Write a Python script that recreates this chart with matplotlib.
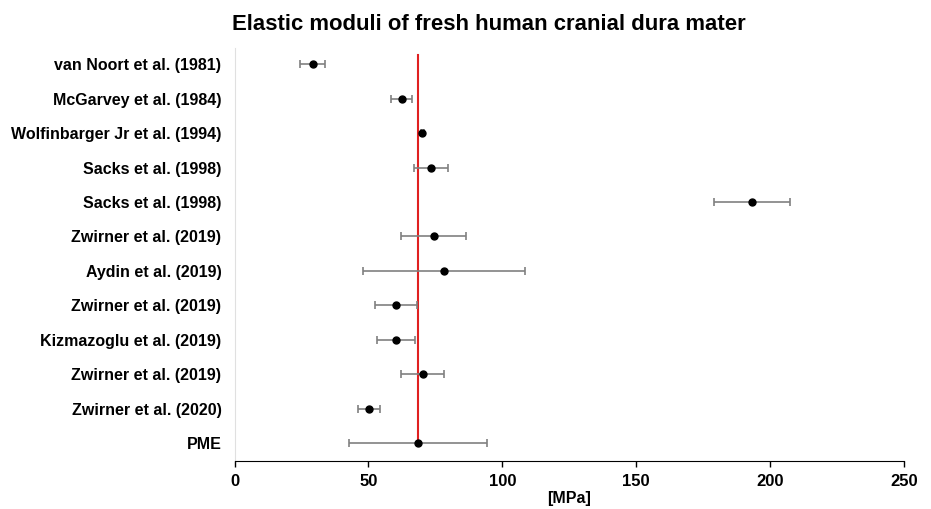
import matplotlib.pyplot as plt

plt.rcParams['font.family'] = ['Liberation Sans', 'DejaVu Sans']

studies = ["van Noort et al. (1981)", "McGarvey et al. (1984)", "Wolfinbarger Jr et al. (1994)",
           "Sacks et al. (1998)", "Sacks et al. (1998)", "Zwirner et al. (2019)",
           "Aydin et al. (2019)", "Zwirner et al. (2019)", "Kizmazoglu et al. (2019)",
           "Zwirner et al. (2019)", "Zwirner et al. (2020)", "PME"]
means = [29.2, 62.4, 70.1, 73.3, 193.2, 74.3, 78.3, 60.3, 60.2, 70.3, 50.2, 68.5]
errs = [4.6, 4.0, 0.5, 6.4, 14.1, 12.0, 30.3, 8.0, 7.0, 8.0, 4.0, 25.9]
pme_mean = 68.5

fig, ax = plt.subplots(figsize=(9.31, 5.09), dpi=100)
fig.subplots_adjust(left=0.252, right=0.971, top=0.905, bottom=0.094)

pos = list(range(len(studies)))
ax.errorbar(means, pos, xerr=errs, fmt='o', color='black', ms=5,
            ecolor='#808080', elinewidth=1.2, capsize=3, capthick=1.2, zorder=3)
ax.axvline(pme_mean, ymin=0.039, ymax=0.983, color='#e02020', lw=1.5, zorder=2)

ax.set_xlim(0, 250)
ax.set_ylim(len(studies) - 0.48, -0.46)
ax.set_yticks(pos)
ax.set_yticklabels(studies, fontsize=11.5, fontweight='bold')
ax.tick_params(axis='y', length=0, pad=9.5)
ax.set_xticks([0, 50, 100, 150, 200, 250])
ax.tick_params(axis='x', direction='out', length=4, labelsize=12, width=1, pad=5)
for lab in ax.get_xticklabels():
    lab.set_fontweight('bold')
ax.set_xlabel("[MPa]", fontsize=11.5, fontweight='bold', labelpad=2)

ax.spines['top'].set_visible(False)
ax.spines['right'].set_visible(False)
ax.spines['left'].set_color('#e0e0e0')
ax.spines['bottom'].set_color('black')

fig.suptitle("Elastic moduli of fresh human cranial dura mater", fontsize=15.9,
             fontweight='bold', x=0.525, y=0.972)

fig.savefig("out.png", dpi=100)
